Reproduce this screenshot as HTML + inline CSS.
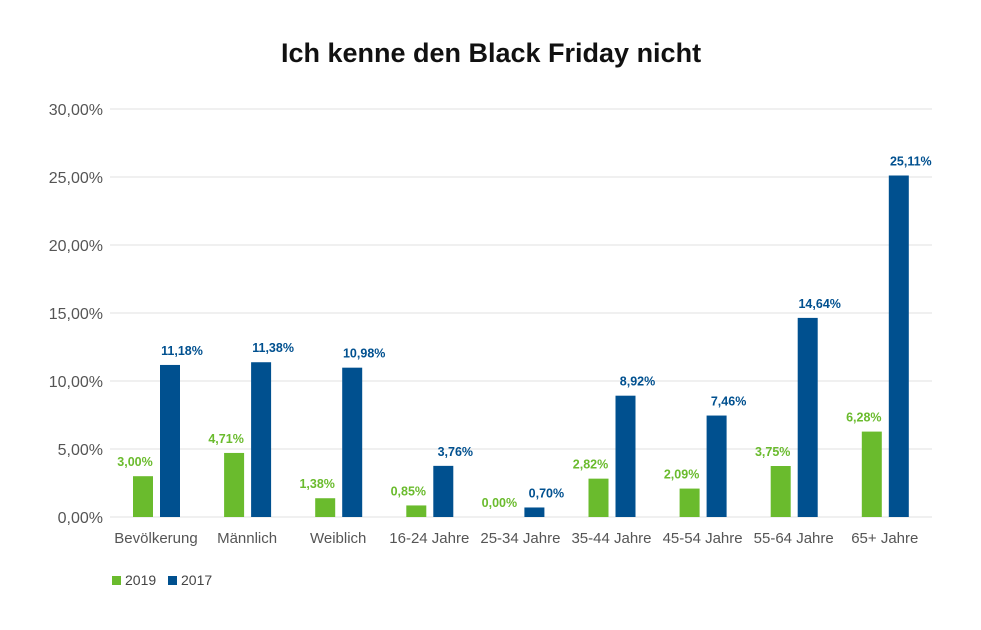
<!DOCTYPE html>
<html><head><meta charset="utf-8"><style>
body{margin:0;background:#fff;font-family:"Liberation Sans",sans-serif}
</style></head><body>
<svg id="chart" width="981" height="625" xmlns="http://www.w3.org/2000/svg">
<text x="491" y="62" text-anchor="middle" font-size="27" font-weight="bold" fill="#111">Ich kenne den Black Friday nicht</text>
<g id="grid"></g><g id="bars"></g>
<g>
<rect x="112" y="576" width="9" height="9" fill="#6abb2d"/>
<text x="125" y="585" font-size="14" fill="#444">2019</text>
<rect x="168" y="576" width="9" height="9" fill="#00508f"/>
<text x="181" y="585" font-size="14" fill="#444">2017</text>
</g>
</svg>
<script>
const categories=["Bevölkerung","Männlich","Weiblich","16-24 Jahre","25-34 Jahre","35-44 Jahre","45-54 Jahre","55-64 Jahre","65+ Jahre"];
const values2019=[3.00,4.71,1.38,0.85,0.00,2.82,2.09,3.75,6.28];
const values2017=[11.18,11.38,10.98,3.76,0.70,8.92,7.46,14.64,25.11];
const ticks=[0,5,10,15,20,25,30];
const NS="http://www.w3.org/2000/svg";
const y0=517,pxPer=13.6,x0=112,band=91.1;
const y=v=>y0-v*pxPer;
const x=i=>x0+i*band;
const fmt=v=>v.toFixed(2).replace('.',',')+'%';
function mk(tag,attrs,parent,text){const e=document.createElementNS(NS,tag);for(const k in attrs)e.setAttribute(k,attrs[k]);if(text!==undefined)e.textContent=text;parent.appendChild(e);return e;}
const grid=document.getElementById('grid'),bars=document.getElementById('bars');
ticks.forEach(t=>{
 const l=mk('line',{x1:110,x2:932,y1:y(t),y2:y(t),stroke:'#e0e0e0','stroke-width':1},grid);
 
 
 const tx=mk('text',{x:103,y:y(t)+6,'text-anchor':'end','font-size':16,fill:'#555'},grid,fmt(t));
 
 
});
categories.forEach((c,i)=>{
 const g=values2019[i],b=values2017[i];
 const r1=mk('rect',{x:x(i)+21,y:y(g),width:20,height:g*pxPer,fill:'#6abb2d'},bars);
 
 
 const r2=mk('rect',{x:x(i)+48,y:y(b),width:20,height:b*pxPer,fill:'#00508f'},bars);
 
 
 const t1=mk('text',{x:x(i)+23,y:y(g)-10,'text-anchor':'middle','font-size':12.5,'font-weight':'bold',fill:'#6abb2d'},bars,fmt(g));
 
 
 const t2=mk('text',{x:x(i)+70,y:y(b)-10,'text-anchor':'middle','font-size':12.5,'font-weight':'bold',fill:'#00508f'},bars,fmt(b));
 
 
 const cl=mk('text',{x:x(i)+44,y:543,'text-anchor':'middle','font-size':15,fill:'#555'},bars,c);
 
 
});
</script>
</body></html>
